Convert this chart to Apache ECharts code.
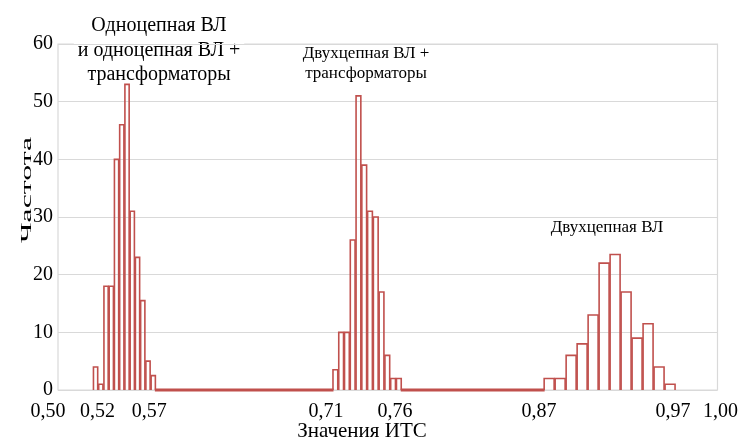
<!DOCTYPE html>
<html><head><meta charset="utf-8">
<script src="https://cdn.jsdelivr.net/npm/echarts@6/dist/echarts.min.js"></script>
<style>html,body{margin:0;padding:0;background:#fff}#chart{width:741px;height:447px}</style>
</head><body><div id="chart"></div>
<script>
// ---------- DATA ----------
const cluster1Range = [0.5265, 0.5742];
const cluster1Counts = [4, 1, 18, 18, 40, 46, 53, 31, 23, 15.5, 5, 2.5];
const cluster2Range = [0.7081, 0.7606];
const cluster2Counts = [3.5, 10, 10, 26, 51, 39, 31, 30, 17, 6, 2, 2];
const cluster3Range = [0.8682, 0.9682];
const cluster3Counts = [2, 2, 6, 8, 13, 22, 23.5, 17, 9, 11.5, 4, 1];
const xTickValues = [0.50, 0.52, 0.57, 0.71, 0.76, 0.87, 0.97, 1.00];
const xTickLabels = ['0,50', '0,52', '0,57', '0,71', '0,76', '0,87', '0,97', '1,00'];
const yMin = 0, yMax = 60, yStep = 10;
const xMin = 0.5, xMax = 1.0;
const xAxisTitle = 'Значения ИТС';
const yAxisTitle = 'Частота';
const groupLabel1 = 'Одноцепная ВЛ\nи одноцепная ВЛ +\nтрансформаторы';
const groupLabel2 = 'Двухцепная ВЛ +\nтрансформаторы';
const groupLabel3 = 'Двухцепная ВЛ';

// ---------- STYLE ----------
const FONT = '"Liberation Serif", "Times New Roman", serif';
const fontOf = (px) => px + 'px "Liberation Serif", "Times New Roman", serif';
const BAR_COLOR = '#c0504d';
const GRID_COLOR = '#d9d9d9';
const labelShift = [-10, 13, -1, -9, -6, -7, -5, 3];

// ---------- BUILD ----------
function bins(range, counts) {
  const w = (range[1] - range[0]) / counts.length;
  return counts.map((c, i) => [range[0] + i * w, range[0] + (i + 1) * w, c]);
}
const binData = [].concat(
  bins(cluster1Range, cluster1Counts),
  bins(cluster2Range, cluster2Counts),
  bins(cluster3Range, cluster3Counts)
);
const gapData = [
  [cluster1Range[1], cluster2Range[0]],
  [cluster2Range[1], cluster3Range[0]]
];

const rich = {};
labelShift.forEach((d, i) => {
  rich['k' + i] = {
    fontFamily: FONT, fontSize: 20, color: '#000',
    padding: [0, d < 0 ? -2 * d : 0, 0, d > 0 ? 2 * d : 0]
  };
});

const chart = echarts.init(document.getElementById('chart'), null, {renderer: 'canvas'});
chart.setOption({
  animation: false,
  backgroundColor: '#fff',
  grid: {left: 58, right: 23, top: 44, bottom: 57, show: true, borderColor: GRID_COLOR, borderWidth: 1.2},
  xAxis: {
    type: 'value', min: xMin, max: xMax,
    axisLine: {show: false}, axisTick: {show: false}, splitLine: {show: false},
    axisLabel: {
      customValues: xTickValues,
      margin: 12,
      formatter: function (val) {
        let idx = 0, best = 1e9;
        xTickValues.forEach((t, i) => { const d = Math.abs(t - val); if (d < best) { best = d; idx = i; } });
        return '{k' + idx + '|' + xTickLabels[idx] + '}';
      },
      rich: rich
    }
  },
  yAxis: {
    type: 'value', min: yMin, max: yMax, interval: yStep,
    axisLine: {show: false}, axisTick: {show: false},
    splitLine: {lineStyle: {color: GRID_COLOR, width: 1.2}},
    axisLabel: {fontFamily: FONT, fontSize: 20, color: '#000', margin: 5}
  },
  series: [
    {
      type: 'custom', name: 'gaps', clip: false,
      data: gapData,
      encode: {x: [0, 1]},
      renderItem: function (params, api) {
        const a = api.coord([api.value(0), 0]);
        const b = api.coord([api.value(1), 0]);
        return {type: 'line', shape: {x1: a[0] - 1, y1: a[1], x2: b[0] + 1, y2: b[1]},
          style: {stroke: BAR_COLOR, lineWidth: 3}};
      }
    },
    {
      type: 'custom', name: 'Частота', clip: false,
      data: binData,
      encode: {x: [0, 1], y: 2},
      renderItem: function (params, api) {
        const v = api.value(2);
        const pL = api.coord([api.value(0), v]);
        const pR = api.coord([api.value(1), 0]);
        const ins = 0.5;
        return {
          type: 'polyline',
          shape: {points: [[pL[0] + ins, pR[1]], [pL[0] + ins, pL[1]], [pR[0] - ins, pL[1]], [pR[0] - ins, pR[1]]]},
          style: {stroke: BAR_COLOR, fill: null, lineWidth: 1.6}
        };
      }
    }
  ],
  graphic: [
    {type: 'text', x: 27, y: 190, rotation: Math.PI / 2, scaleX: 2.05,
      style: {text: yAxisTitle, font: fontOf(15.5), fill: '#000', align: 'center', verticalAlign: 'middle'}},
    {type: 'text', x: 362, y: 431,
      style: {text: xAxisTitle, font: fontOf(21), fill: '#000', align: 'center', verticalAlign: 'middle'}},
    {type: 'text', x: 159, y: 50.5,
      style: {text: groupLabel1, font: fontOf(20), lineHeight: 24.5, fill: '#000', align: 'center', verticalAlign: 'middle',
        backgroundColor: '#fff', padding: [0, 4, 0, 4]}},
    {type: 'text', x: 366, y: 64,
      style: {text: groupLabel2, font: fontOf(17), lineHeight: 20, fill: '#000', align: 'center', verticalAlign: 'middle',
        backgroundColor: '#fff', padding: [0, 4, 0, 4]}},
    {type: 'text', x: 607, y: 228,
      style: {text: groupLabel3, font: fontOf(17), fill: '#000', align: 'center', verticalAlign: 'middle',
        backgroundColor: '#fff', padding: [0, 4, 0, 4]}}
  ]
});
</script>
</body></html>
